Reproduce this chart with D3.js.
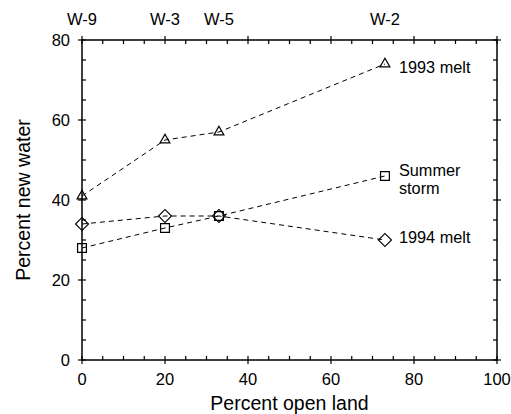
<!DOCTYPE html>
<html><head><meta charset="utf-8">
<script src="https://cdn.jsdelivr.net/npm/d3@7"></script>
<style>body{margin:0;background:#fff}svg{display:block}text{font-family:"Liberation Sans",Arial,sans-serif;fill:#000}</style>
</head><body>
<svg id="c" width="511" height="414"></svg>
<script>
const openLand = [0, 20, 33, 73];
const siteLabels = ["W-9", "W-3", "W-5", "W-2"];
const melt1993 = [41, 55, 57, 74];
const summerStorm = [28, 33, 36, 46];
const melt1994 = [34, 36, 36, 30];
const xTicks = [0, 20, 40, 60, 80, 100];
const yTicks = [0, 20, 40, 60, 80];

const svg = d3.select("#c");
const x = d3.scaleLinear().domain([0, 100]).range([82, 497]);
const y = d3.scaleLinear().domain([0, 80]).range([360, 40]);
const L = 82, R = 497, T = 40, B = 360;

// frame
svg.append("rect").attr("x", L).attr("y", T).attr("width", R - L).attr("height", B - T)
  .attr("fill", "none").attr("stroke", "#000").attr("stroke-width", 1.5);

const g = svg.append("g").attr("stroke", "#000").attr("stroke-width", 1.2);
const minorX = d3.range(0, 101, 5);
const minorY = d3.range(0, 81, 5);
minorX.forEach(v => {
  const major = v % 20 === 0;
  const px = x(v);
  g.append("line").attr("x1", px).attr("x2", px).attr("y1", B - 4).attr("y2", major ? B + 4 : B);
  g.append("line").attr("x1", px).attr("x2", px).attr("y1", T + 4).attr("y2", major ? T - 4 : T);
});
minorY.forEach(v => {
  const major = v % 20 === 0;
  const py = y(v);
  g.append("line").attr("y1", py).attr("y2", py).attr("x1", L + 4).attr("x2", major ? L - 4 : L);
  g.append("line").attr("y1", py).attr("y2", py).attr("x1", R - 4).attr("x2", major ? R + 4 : R);
});

// tick labels
svg.append("g").selectAll("text").data(xTicks).join("text")
  .attr("x", d => x(d)).attr("y", 385).attr("text-anchor", "middle")
  .attr("font-size", 16.5).text(d => d);
svg.append("g").selectAll("text").data(yTicks).join("text")
  .attr("x", 70).attr("y", d => y(d) + 6).attr("text-anchor", "end")
  .attr("font-size", 16.5).text(d => d);
svg.append("g").selectAll("text").data(siteLabels).join("text")
  .attr("x", (d, i) => x(openLand[i])).attr("y", 25).attr("text-anchor", "middle")
  .attr("font-size", 16.5).text(d => d);

// axis titles
svg.append("text").attr("x", (L + R) / 2).attr("y", 410).attr("text-anchor", "middle")
  .attr("font-size", 19.5).text("Percent open land");
svg.append("text").attr("transform", `translate(30,${(T + B) / 2}) rotate(-90)`)
  .attr("text-anchor", "middle").attr("font-size", 19.5).text("Percent new water");

// series
const series = [
  {vals: melt1993, sym: d3.symbolTriangle, size: 42, rot: 0},
  {vals: summerStorm, sym: d3.symbolSquare, size: 78, rot: 0},
  {vals: melt1994, sym: d3.symbolSquare, size: 84, rot: 45}
];
const line = d3.line().x(d => x(d[0])).y(d => y(d[1]));
series.forEach(s => {
  const pts = openLand.map((v, i) => [v, s.vals[i]]);
  svg.append("path").attr("d", line(pts)).attr("fill", "none").attr("stroke", "#000")
    .attr("stroke-width", 1).attr("stroke-dasharray", "5,4");
  svg.append("g").selectAll("path").data(pts).join("path")
    .attr("transform", d => `translate(${x(d[0])},${y(d[1])}) rotate(${s.rot})`)
    .attr("d", d3.symbol().type(s.sym).size(s.size)())
    .attr("fill", "none").attr("stroke", "#000").attr("stroke-width", 1.2);
});

// series labels
const lx = x(openLand[3]) + 14;
svg.append("text").attr("x", lx).attr("y", 73).attr("font-size", 16.3).text("1993 melt");
svg.append("text").attr("x", lx).attr("y", 176).attr("font-size", 16.3).text("Summer");
svg.append("text").attr("x", lx).attr("y", 194).attr("font-size", 16.3).text("storm");
svg.append("text").attr("x", lx).attr("y", 243).attr("font-size", 16.3).text("1994 melt");
</script>
</body></html>
